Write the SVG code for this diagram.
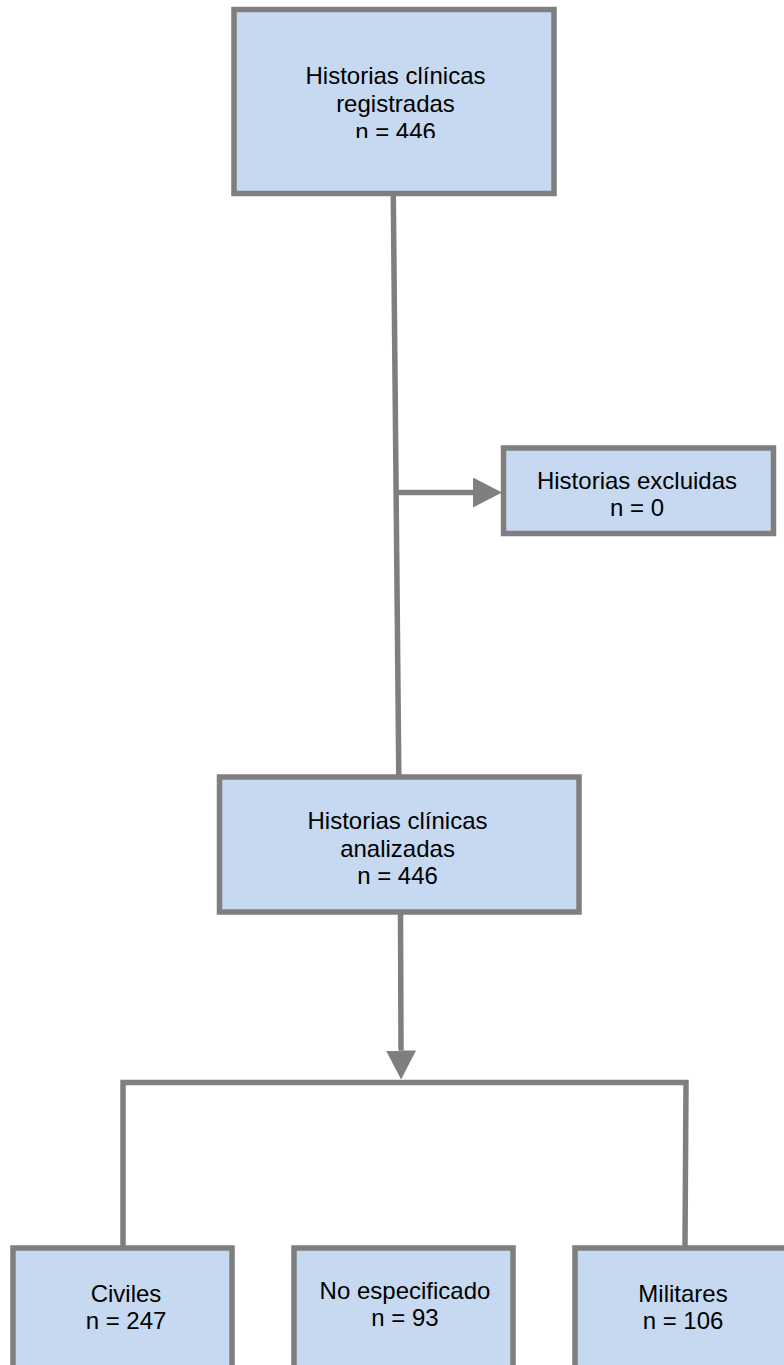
<svg xmlns="http://www.w3.org/2000/svg" width="784" height="1365" viewBox="0 0 784 1365">
<style>
.box{fill:#c6d9f0;stroke:#7f7f7f;stroke-width:5.5}
.ln{fill:none;stroke:#7f7f7f;stroke-width:5.5;stroke-linejoin:miter}
.t{font-family:"Liberation Sans",Arial,sans-serif;font-size:24px;fill:#000;text-anchor:middle}
</style>
<defs>
<marker id="ah" viewBox="0 0 29 30" refX="0" refY="15" markerWidth="29" markerHeight="30" markerUnits="userSpaceOnUse" orient="auto">
<path d="M0,0 L29,15 L0,30 Z" fill="#7f7f7f"/>
</marker>
<clipPath id="clipTop"><rect x="234" y="9" width="320" height="129"/></clipPath>
</defs>
<rect width="784" height="1365" fill="#ffffff"/>
<g id="connectors">
<line class="ln" x1="393.3" y1="196" x2="398.8" y2="776"/>
<line class="ln" x1="396" y1="492.5" x2="473" y2="492.5" marker-end="url(#ah)"/>
<line class="ln" x1="400.5" y1="912" x2="401" y2="1050.5" marker-end="url(#ah)"/>
<path class="ln" d="M123,1246 L123,1082.5 L686,1082.5 L685,1246"/>
</g>
<g id="registradas">
<rect class="box" x="234" y="9.5" width="320" height="184"/>
<g clip-path="url(#clipTop)">
<text class="t" x="395.5" y="84">Historias clínicas</text>
<text class="t" x="395.5" y="111.5">registradas</text>
<text class="t" x="395.5" y="140">n = 446</text>
</g>
</g>
<g id="excluidas">
<rect class="box" x="503.5" y="448" width="270" height="85.5"/>
<text class="t" x="637" y="488.5">Historias excluidas</text>
<text class="t" x="637" y="516">n = 0</text>
</g>
<g id="analizadas">
<rect class="box" x="219.5" y="777" width="359.5" height="135"/>
<text class="t" x="397.5" y="829">Historias clínicas</text>
<text class="t" x="397.5" y="856.5">analizadas</text>
<text class="t" x="397.5" y="883.5">n = 446</text>
</g>
<g id="civiles">
<rect class="box" x="13" y="1248" width="219" height="160"/>
<text class="t" x="126" y="1302">Civiles</text>
<text class="t" x="126" y="1329">n = 247</text>
</g>
<g id="noespecificado">
<rect class="box" x="294" y="1248" width="219" height="160"/>
<text class="t" x="405" y="1298.5">No especificado</text>
<text class="t" x="405" y="1325.5">n = 93</text>
</g>
<g id="militares">
<rect class="box" x="575" y="1248" width="219" height="160"/>
<text class="t" x="683" y="1302">Militares</text>
<text class="t" x="683" y="1329">n = 106</text>
</g>
</svg>
